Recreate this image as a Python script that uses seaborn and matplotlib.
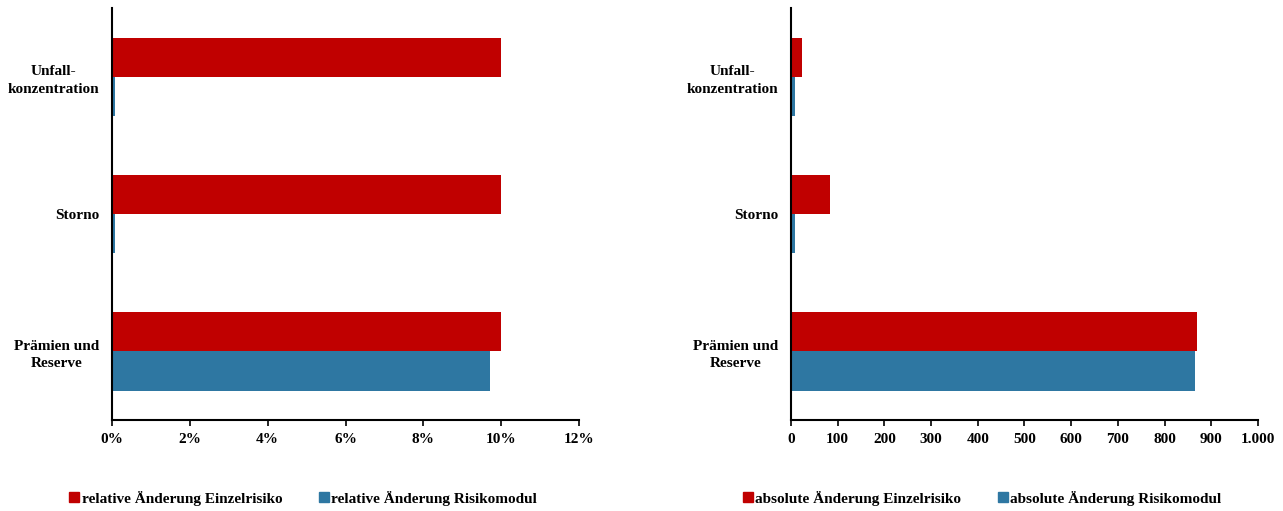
import matplotlib
matplotlib.use("Agg")
import matplotlib.pyplot as plt
from matplotlib.lines import Line2D
from matplotlib.ticker import FuncFormatter, MultipleLocator
import pandas as pd
import seaborn as sns

# Risk categories (top to bottom)
categories = ["Unfall-\nkonzentration", "Storno", "Prämien und\nReserve"]

# Relative change (percent)
rel_einzel = [10.0, 10.0, 10.0]
rel_modul = [0.07, 0.08, 9.72]

# Absolute change
abs_einzel = [24, 84, 870]
abs_modul = [8, 8, 865]

rel_names = ["relative Änderung Einzelrisiko", "relative Änderung Risikomodul"]
abs_names = ["absolute Änderung Einzelrisiko", "absolute Änderung Risikomodul"]

colors = ["#C00000", "#2E77A2"]

sns.set_theme(style="white")
plt.rcParams["font.family"] = ["Liberation Serif", "DejaVu Serif"]
plt.rcParams["font.weight"] = "bold"
plt.rcParams["text.color"] = "black"

FS = 11


def long_frame(a, b, names):
    return pd.DataFrame({
        "Kategorie": categories * 2,
        "Wert": list(a) + list(b),
        "Reihe": [names[0]] * len(categories) + [names[1]] * len(categories),
    })


fig = plt.figure(figsize=(12.83, 5.11), dpi=100)
ax1 = fig.add_axes([0.0873, 0.178, 0.364, 0.806])
ax2 = fig.add_axes([0.6165, 0.178, 0.364, 0.806])

panels = [
    (ax1, long_frame(rel_einzel, rel_modul, rel_names), rel_names, (0, 12), 2,
     lambda v, p: f"{v:.0f}%"),
    (ax2, long_frame(abs_einzel, abs_modul, abs_names), abs_names, (0, 1000), 100,
     lambda v, p: f"{v:,.0f}".replace(",", ".")),
]

for ax, df, names, xlim, step, fmt in panels:
    sns.barplot(data=df, y="Kategorie", x="Wert", hue="Reihe",
                palette=colors, width=0.57, orient="h", ax=ax,
                legend=False, saturation=1, linewidth=0)
    ax.set_xlim(*xlim)
    ax.set_ylim(2.5, -0.5)
    ax.xaxis.set_major_locator(MultipleLocator(step))
    ax.xaxis.set_major_formatter(FuncFormatter(fmt))
    ax.set_xlabel("")
    ax.set_ylabel("")
    for s in ["top", "right"]:
        ax.spines[s].set_visible(False)
    for s in ["left", "bottom"]:
        ax.spines[s].set_color("black")
        ax.spines[s].set_linewidth(1.5)
    ax.tick_params(axis="x", bottom=True, length=4, width=1.2, color="black",
                   labelsize=FS, pad=5, labelcolor="black")
    ax.tick_params(axis="y", left=False, length=0, labelsize=FS, pad=9,
                   labelcolor="black")
    for lbl in ax.get_yticklabels():
        lbl.set_multialignment("center")
        lbl.set_linespacing(1.45)
        lbl.set_fontweight("bold")
    for lbl in ax.get_xticklabels():
        lbl.set_fontweight("bold")

    handles = [Line2D([], [], marker="s", linestyle="none", markersize=6.5,
                      markerfacecolor=c, markeredgecolor=c) for c in colors]
    ax.legend(handles, names, loc="center", bbox_to_anchor=(0.41, -0.19),
              ncol=2, frameon=False, handlelength=0.6, handletextpad=0.2,
              columnspacing=2.4, labelcolor="black",
              prop={"weight": "bold", "size": FS})

fig.savefig("out.png", dpi=100)
